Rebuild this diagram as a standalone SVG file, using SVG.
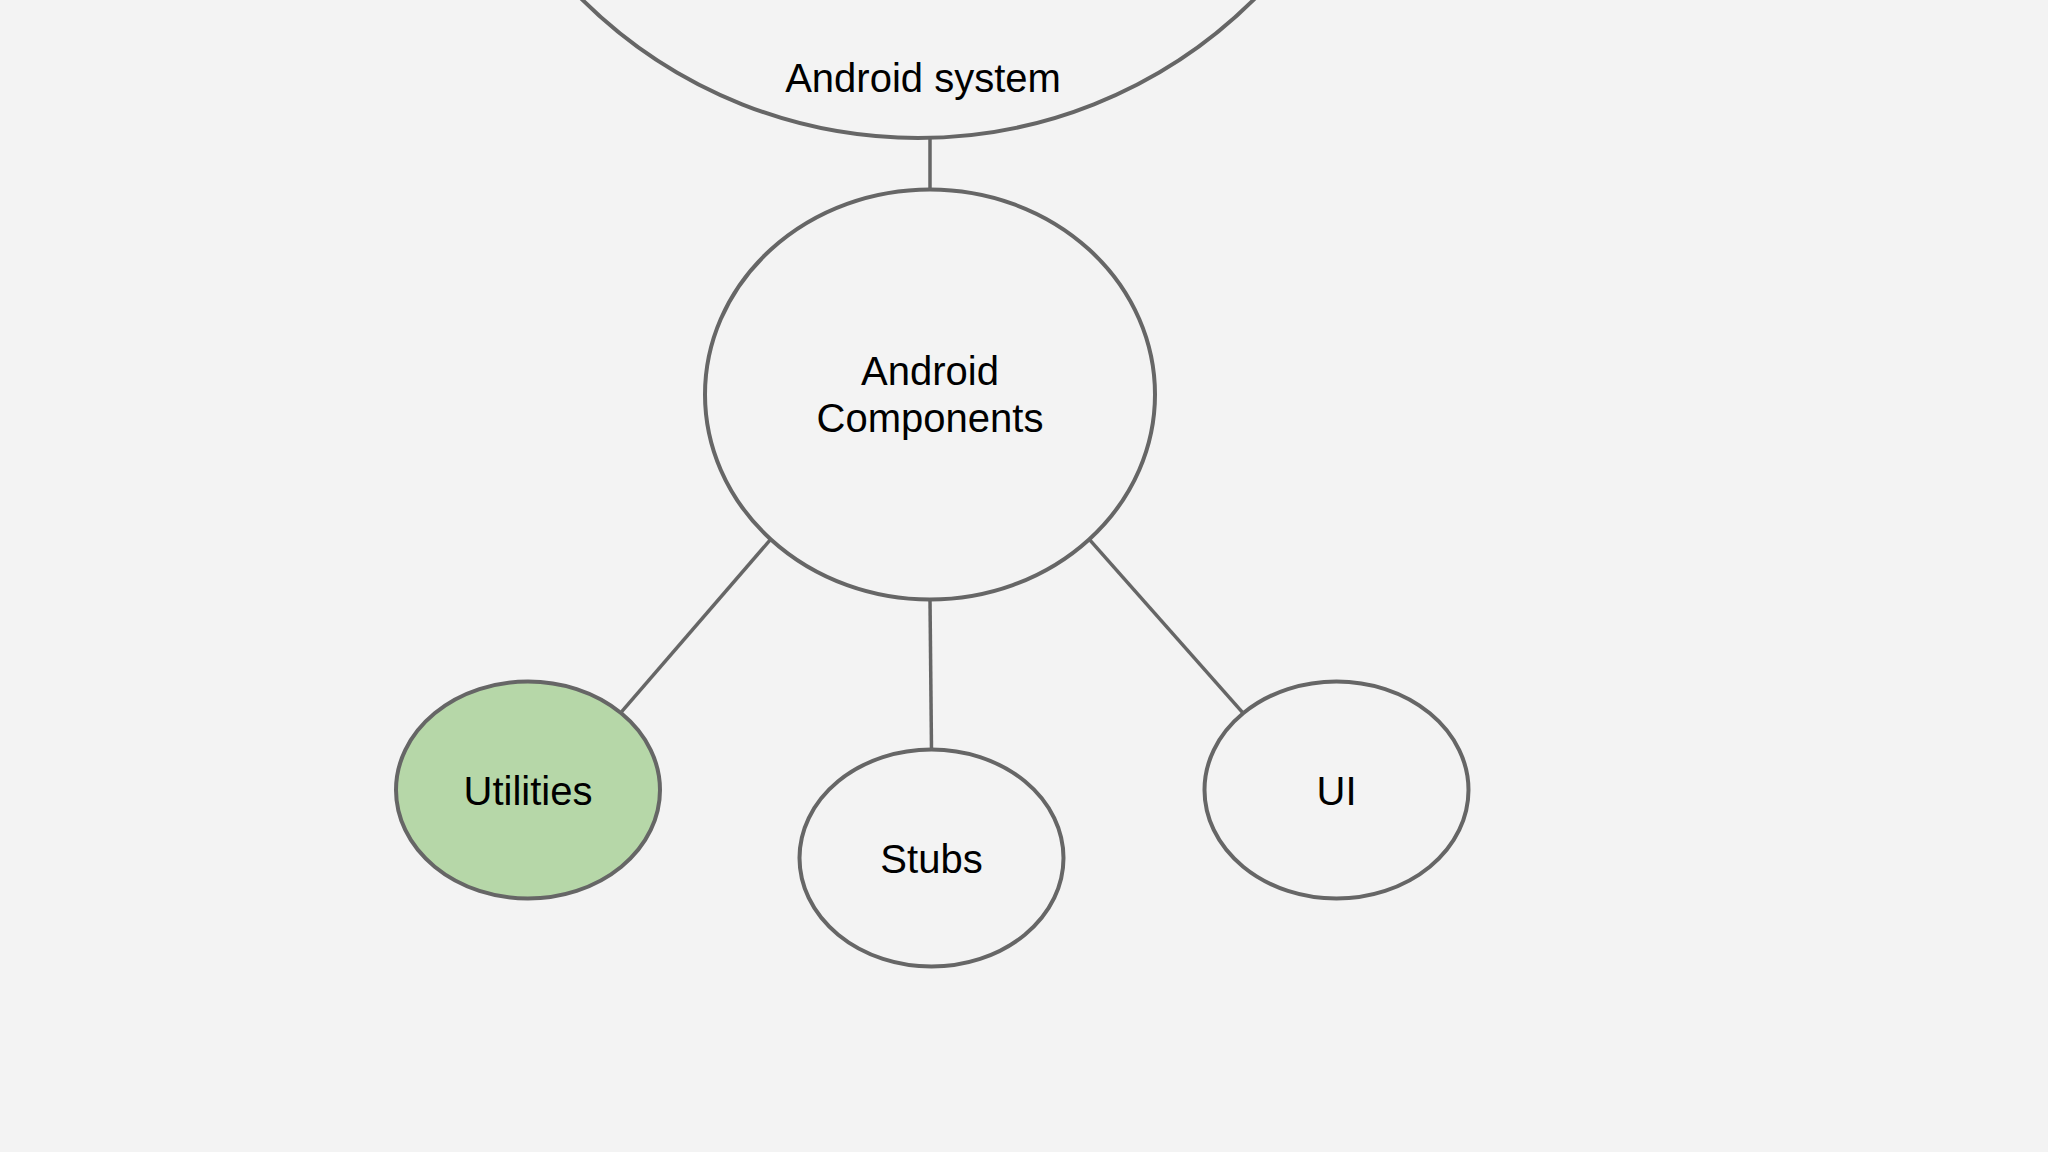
<svg xmlns="http://www.w3.org/2000/svg" width="2048" height="1152" viewBox="0 0 2048 1152">
<style>
.node{fill:#f3f3f3;stroke:#666666;stroke-width:4}
.green{fill:#b6d7a8}
.lbl{font-family:"Liberation Sans",Arial,sans-serif;font-size:40px;fill:#000000;text-anchor:middle}
.conn line{stroke:#666666;stroke-width:3.5;fill:none}
</style>
<rect x="0" y="0" width="2048" height="1152" fill="#f3f3f3"/>
<g id="connectors" class="conn">
<line x1="930" y1="138" x2="930" y2="190"/>
<line x1="770.6" y1="539.4" x2="621.7" y2="711.7"/>
<line x1="930" y1="599.5" x2="931.5" y2="749.7"/>
<line x1="1089.3" y1="539.4" x2="1242.7" y2="712.7"/>
</g>
<g id="android-system">
<ellipse class="node" cx="918" cy="-342" rx="478" ry="480"/>
<text class="lbl" x="923" y="92">Android system</text>
</g>
<g id="android-components">
<ellipse class="node" cx="930" cy="394.5" rx="225" ry="205"/>
<text class="lbl" x="930" y="385">Android</text>
<text class="lbl" x="930" y="432">Components</text>
</g>
<g id="utilities">
<ellipse class="node green" cx="528" cy="790" rx="132" ry="108.5"/>
<text class="lbl" x="528" y="805">Utilities</text>
</g>
<g id="stubs">
<ellipse class="node" cx="931.5" cy="858" rx="132" ry="108.5"/>
<text class="lbl" x="931.5" y="873">Stubs</text>
</g>
<g id="ui">
<ellipse class="node" cx="1336.5" cy="790" rx="132" ry="108.5"/>
<text class="lbl" x="1336.5" y="805">UI</text>
</g>
</svg>
